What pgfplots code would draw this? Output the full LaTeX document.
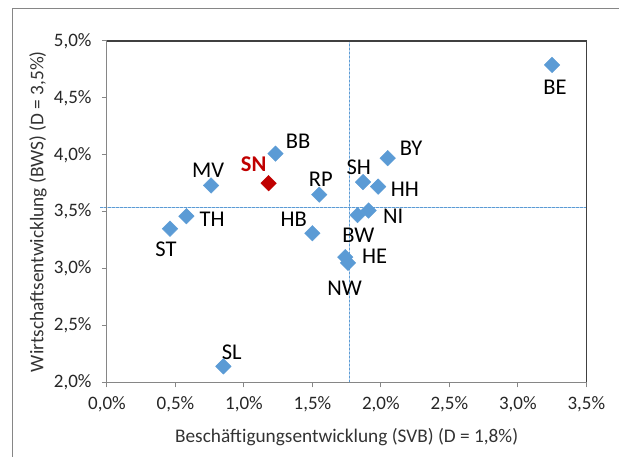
\documentclass[border=0pt]{standalone}
\usepackage{pgfplots}
\pgfplotsset{compat=1.18}
\usepackage{pgfplotstable}
\usepackage{fontspec}
\setmainfont{Carlito}
\definecolor{ptblue}{HTML}{5B9BD5}
\definecolor{ptred}{HTML}{C00000}
\definecolor{axgray}{HTML}{868686}
\definecolor{boxdark}{HTML}{404040}

\pgfplotstableread{
x y lab dx dy
3.25 4.79 BE 3 -22.5
1.23 4.01 BB 22.6 12
0.76 3.73 MV -3 15.3
1.55 3.65 RP 1.6 15.3
1.87 3.76 SH -4.3 14.6
2.05 3.97 BY 23.4 10
1.98 3.72 HH 26.8 -2.5
1.91 3.51 NI 24.6 -6.2
1.83 3.47 BW 0.7 -20.3
1.50 3.31 HB -18.7 14
1.74 3.10 HE 29.3 0.7
1.76 3.05 NW -3.3 -25.4
0.58 3.46 TH 25.8 -3
0.46 3.35 ST -4.1 -21
0.85 2.14 SL 8.4 14.3
}\blue

\pgfplotstableread{
x y lab dx dy
1.18 3.75 SN -15 18.6
}\red

\begin{document}
\begin{tikzpicture}[x=1pt,y=1pt]
\useasboundingbox (0,0) rectangle (619,457);
\draw[axgray, line width=1pt] (12,0) -- (12,448) -- (619,448);
\begin{axis}[
  at={(107pt,74.7pt)}, anchor=south west,
  scale only axis, width=479.3pt, height=341.3pt,
  xmin=0, xmax=3.5, ymin=2, ymax=5,
  xtick={0,0.5,...,3.5}, ytick={2,2.5,...,5},
  clip=false,
  axis line style={draw=none},
  tick align=outside, major tick length=5pt,
  tick style={axgray, line width=1pt},
  xtick pos=left, ytick pos=left,
  /pgf/number format/assume math mode=true,
  xticklabel={\pgfmathprintnumber[fixed,fixed zerofill,precision=1,use comma]{\tick}\%},
  yticklabel={\pgfmathprintnumber[fixed,fixed zerofill,precision=1,use comma]{\tick}\%},
  ticklabel style={font=\fontsize{19}{21}\selectfont, text=black!85},
  xticklabel style={yshift=-6pt},
  yticklabel style={xshift=-7pt},
  xlabel={Beschäftigungsentwicklung (SVB) (D = 1,8\%)},
  ylabel={Wirtschaftsentwicklung (BWS) (D = 3,5\%)},
  label style={font=\fontsize{19.3}{21}\selectfont, text=black!80},
  xlabel style={at={(axis description cs:0.5,0)}, anchor=center, yshift=-54.7pt},
  ylabel style={at={(axis description cs:0,0.5)}, anchor=center, rotate=0, yshift=69pt},
]
\addplot[ptblue!45, solid, no markers, line width=1pt, forget plot] coordinates {(-0.05,3.534) (3.5,3.534)};
\addplot[ptblue!45, solid, no markers, line width=1pt, forget plot] coordinates {(1.771,2) (1.771,5)};
\addplot[ptblue, no markers, line width=1pt, dash pattern=on 2.5pt off 1.5pt, forget plot] coordinates {(-0.05,3.534) (3.5,3.534)};
\addplot[ptblue, no markers, line width=1pt, dash pattern=on 2.5pt off 1.5pt, forget plot] coordinates {(1.771,2) (1.771,5)};
\draw[axgray, line width=1pt] (axis cs:0,5) -- (axis cs:0,2) -- (axis cs:3.5,2);
\draw[boxdark, line width=1.4pt] (axis cs:0,5) -- (axis cs:3.5,5) -- (axis cs:3.5,2);
\addplot[only marks, mark=square*, mark size=5.5pt, mark options={rotate=45, fill=ptblue, draw=ptblue},
  nodes near coords, point meta=explicit symbolic,
  visualization depends on={\thisrow{dx}\as\dx},
  visualization depends on={\thisrow{dy}\as\dy},
  nodes near coords style={text=black, font=\fontsize{22.5}{24}\selectfont, anchor=center, xshift=\dx pt, yshift=\dy pt}]
  table[x=x, y=y, meta=lab] {\blue};
\addplot[only marks, mark=square*, mark size=5.5pt, mark options={rotate=45, fill=ptred, draw=ptred},
  nodes near coords, point meta=explicit symbolic,
  visualization depends on={\thisrow{dx}\as\dx},
  visualization depends on={\thisrow{dy}\as\dy},
  nodes near coords style={text=ptred, font=\fontsize{22.5}{24}\selectfont\bfseries, anchor=center, xshift=\dx pt, yshift=\dy pt}]
  table[x=x, y=y, meta=lab] {\red};
\end{axis}
\end{tikzpicture}
\end{document}
